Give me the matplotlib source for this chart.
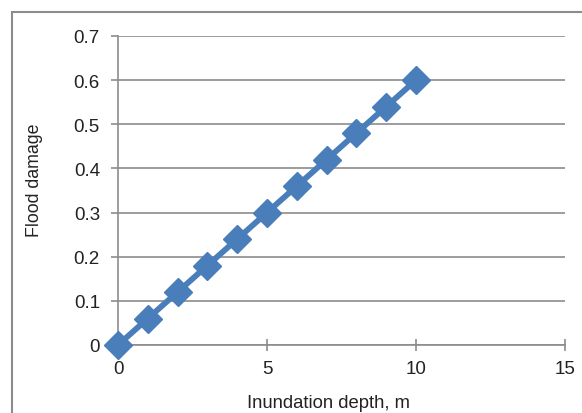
import matplotlib

matplotlib.use("Agg")
import matplotlib.pyplot as plt
from matplotlib.patches import Rectangle

depth = [0, 1, 2, 3, 4, 5, 6, 7, 8, 9, 10]
damage = [0.0, 0.06, 0.12, 0.18, 0.24, 0.30, 0.36, 0.42, 0.48, 0.54, 0.60]
x_ticks = [0, 5, 10, 15]
y_ticks = [0, 0.1, 0.2, 0.3, 0.4, 0.5, 0.6, 0.7]
y_labels = ["0", "0.1", "0.2", "0.3", "0.4", "0.5", "0.6", "0.7"]

plt.rcParams["font.family"] = ["Liberation Sans", "DejaVu Sans"]

W, H = 582, 414
fig = plt.figure(figsize=(W / 100, H / 100), dpi=100)
ax = fig.add_axes([118 / W, 1 - 346 / H, (565 - 118) / W, (346 - 37) / H])

# outer chart frame (Excel style)
fig.patches.append(
    Rectangle((12 / W, -0.1), 1.0, 1.1 - 13 / H, transform=fig.transFigure,
              fill=False, edgecolor="#8c8c8c", linewidth=1.5)
)

ax.plot(depth, damage, color="#4A7EBB", linewidth=4.2, marker="D",
        markersize=14, markeredgecolor="#4A7EBB", zorder=3, clip_on=False)

ax.set_xlim(0, 15)
ax.set_ylim(0, 0.7)
ax.set_xticks(x_ticks)
ax.set_yticks(y_ticks)
ax.set_yticklabels(y_labels)
ax.yaxis.grid(True, color="#8c8c8c", linewidth=1.2)
ax.set_axisbelow(True)
for s in ["top", "right"]:
    ax.spines[s].set_visible(False)
for s in ["left", "bottom"]:
    ax.spines[s].set_color("#8c8c8c")
    ax.spines[s].set_linewidth(1.2)
ax.tick_params(axis="both", colors="#8c8c8c", length=5, width=1.2,
               labelcolor="#222222", labelsize=13.5)
ax.tick_params(axis="x", direction="inout", length=8, pad=7)
ax.tick_params(axis="y", pad=8)

ax.set_xlabel("Inundation depth, m", fontsize=13.3, color="#222222", labelpad=12)
ax.set_ylabel("Flood damage", fontsize=12.8, color="#222222", labelpad=22)
# Excel centres the titles a little off the plot area centre
ax.xaxis.label.set_x(0.47)
ax.yaxis.label.set_y(0.537)

fig.savefig("out.png", dpi=100)
